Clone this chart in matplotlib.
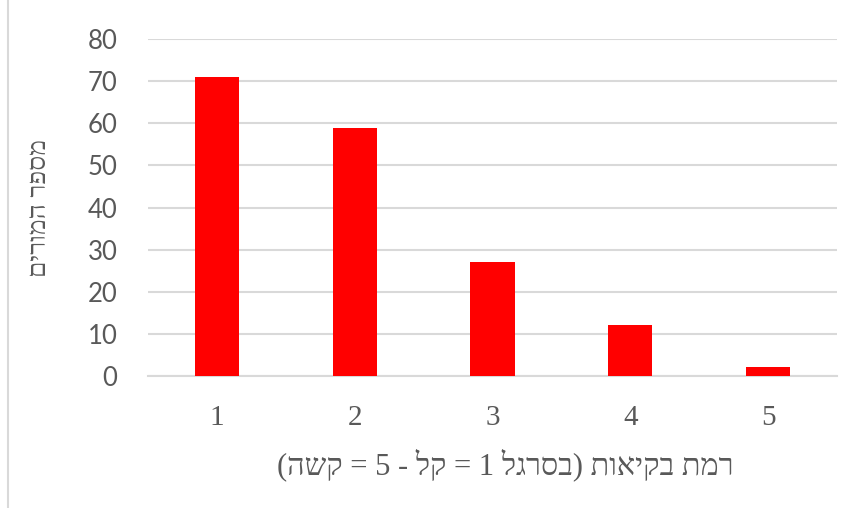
import numpy as np
import matplotlib.pyplot as plt
from matplotlib.lines import Line2D

# מספר המורים לפי רמת בקיאות
levels = [1, 2, 3, 4, 5]
teachers = [71, 59, 27, 12, 2]
tick_labels = ['1', '2', '3', '4', '5']

x_title = 'רמת בקיאות (בסרגל 1 = קל - 5 = קשה)'
y_title = 'מספר המורים'


def visual(s):
    # matplotlib draws left to right, so flip the hebrew into display order
    out = []
    for tok in s[::-1]:
        out.append({'(': ')', ')': '('}.get(tok, tok))
    return ''.join(out)


gray = '#595959'
grid = '#d9d9d9'
serif = ['Liberation Serif', 'DejaVu Serif']

fig = plt.figure(figsize=(8.55, 5.08), dpi=100)
ax = fig.add_axes([0.173, 0.26, 0.806, 0.663])

ax.bar(levels, teachers, width=0.32, color='#ff0000', zorder=3)

ax.set_xlim(0.5, 5.5)
ax.set_ylim(0, 80)
ax.set_yticks(np.arange(0, 81, 10))
ax.set_xticks(levels)
ax.set_xticklabels(tick_labels, family=serif, fontsize=21, color=gray)
for lab in ax.get_yticklabels():
    lab.set_family(['Lato', 'DejaVu Sans'])
    lab.set_fontsize(18.5)
    lab.set_color(gray)

ax.yaxis.grid(True, color=grid, linewidth=1.5, zorder=0)
ax.tick_params(axis='both', length=0)
ax.tick_params(axis='y', pad=22)
ax.tick_params(axis='x', pad=21)
for side in ['top', 'right', 'left']:
    ax.spines[side].set_visible(False)
ax.spines['bottom'].set_color(grid)
ax.spines['bottom'].set_linewidth(1.5)

ax.set_xlabel(visual(x_title), family=serif, fontsize=22, color=gray)
ax.xaxis.set_label_coords(0.519, -0.215)
fig.text(0.047, 0.59, visual(y_title), rotation=90, ha='center', va='center',
         family=serif, fontsize=19, color=gray)

# frame edge of the chart area on the left
fig.add_artist(Line2D([0.0095, 0.0095], [0.0, 1.0], color=grid, linewidth=1.5))

fig.savefig('out.png', dpi=100)
